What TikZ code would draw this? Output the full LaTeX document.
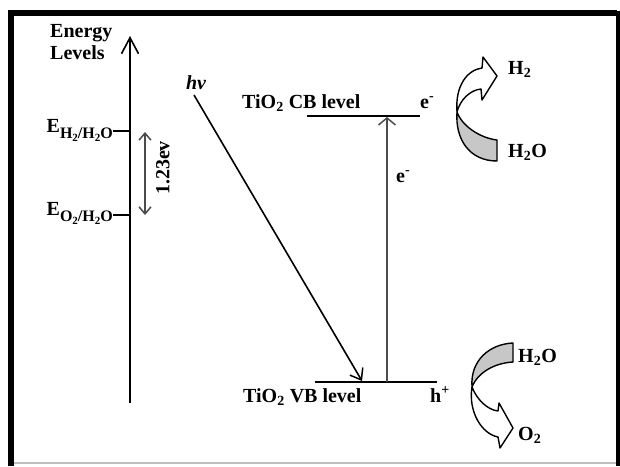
\documentclass[tikz,border=0pt]{standalone}
\usepackage{fontspec}
\setmainfont{Liberation Serif}
\usetikzlibrary{arrows.meta}
\newcommand{\subtxt}[1]{\raisebox{-6pt}{\fontsize{16}{18}\selectfont #1}}
\newcommand{\subtwo}{\raisebox{-3.5pt}{\fontsize{11}{12}\selectfont 2}}
\tikzset{
  lbl/.style={inner sep=0pt, font=\fontsize{20}{24}\selectfont\bfseries},
  conn/.style={line width=1.5pt, black},
  axisarrow/.style={line width=2pt, -{Straight Barb[length=16pt,width=17pt,line width=1.6pt]}},
  hvarrow/.style={line width=1.6pt, -{Straight Barb[length=10pt,width=15pt,line width=1.5pt]}},
  earrow/.style={line width=1.6pt, black!70, -{Straight Barb[length=7pt,width=17pt,line width=1.5pt]}},
  gaparrow/.style={line width=1.5pt, black!70, {Straight Barb[length=7pt,width=12pt,line width=1.5pt]}-{Straight Barb[length=7pt,width=12pt,line width=1.5pt]}},
  band/.style={fill=black!22, draw=black, line width=1.4pt, line join=round},
  whitearrow/.style={fill=white, draw=black, line width=1.4pt, line join=round}
}
\begin{document}
\begin{tikzpicture}[x=1pt,y=-1pt]
\useasboundingbox (0,0) rectangle (620,466);
% frame
\draw[black!25, line width=1.5pt] (14,463) -- (616,463);
\draw[line width=6pt] (11,466) -- (11,13) -- (617,13);
\draw[line width=4pt] (618,11) -- (618,466);

% energy axis
\coordinate (axb) at (130,403);
\coordinate (axt) at (130,36);
\draw[axisarrow] (axb) -- (axt);
\node[lbl, anchor=base west] (energy) at (50,37) {Energy};
\node[lbl, anchor=base west] (levels) at (50,59) {Levels};

% redox levels
\node[lbl, anchor=base east] (eh) at (113,132) {E\subtxt{H\subtwo/H\subtwo O}};
\node[lbl, anchor=base east] (eo) at (113,215) {E\subtxt{O\subtwo/H\subtwo O}};
\coordinate (ehA) at (130,131);
\coordinate (eoA) at (130,215);
\draw[conn] (eh.east |- ehA) -- (ehA);
\draw[conn] (eo.east |- eoA) -- (eoA);

% 1.23 eV gap
\coordinate (g1) at (145,132);
\coordinate (g2) at (145,215);
\draw[gaparrow] (g1) -- (g2);
\node[lbl, rotate=90] (gap) at (163,168) {1.23ev};

% photon
\node[lbl, font=\fontsize{20}{24}\selectfont\bfseries\itshape] (hv) at (196,83) {hv};
\coordinate (hvs) at (194,95);
\coordinate (hvt) at (362,381);
\draw[hvarrow] (hvs) -- (hvt);

% TiO2 levels
\coordinate (cbL) at (307,116);
\coordinate (cbR) at (420,116);
\coordinate (vbL) at (315,382);
\coordinate (vbR) at (437,382);
\draw[conn] (cbL) -- (cbR);
\draw[conn] (vbL) -- (vbR);
\node[lbl, anchor=base west] (cblab) at (242,108) {TiO\textsubscript{2} CB level};
\node[lbl, anchor=base west] (vblab) at (243,402) {TiO\textsubscript{2} VB level};
\node[lbl, anchor=base west] (ecb) at (420,108) {e\textsuperscript{-}};
\node[lbl, anchor=base west] (hvb) at (430,402) {h\textsuperscript{+}};

% excitation
\coordinate (exb) at (387,382);
\coordinate (ext) at (387,117);
\draw[earrow] (exb) -- (ext);
\node[lbl, anchor=base west] (eup) at (396,182) {e\textsuperscript{-}};

% reduction: H2O -> H2
\draw[band] (457,112) .. controls (455,140) and (470,161) .. (497,161)
  -- (497,140) .. controls (480,138) and (462,126) .. (457,112) -- cycle;
\draw[whitearrow] (457,112) .. controls (455,86) and (467,70) .. (482,68)
  -- (483,57) -- (497,76) -- (482,100) -- (481,89)
  .. controls (470,90) and (460,100) .. (457,112) -- cycle;
\node[lbl, anchor=base west] (h2) at (508,74) {H\textsubscript{2}};
\node[lbl, anchor=base west] (h2o1) at (508,157) {H\textsubscript{2}O};

% oxidation: H2O -> O2
\draw[band] (472,387) .. controls (470,360) and (490,344) .. (513,343)
  -- (513,362) .. controls (495,363) and (478,372) .. (472,387) -- cycle;
\draw[whitearrow] (472,387) .. controls (468,412) and (482,434) .. (498,437)
  -- (500,448) -- (513,428) -- (499,403) -- (498,411)
  .. controls (488,410) and (477,400) .. (472,387) -- cycle;
\node[lbl, anchor=base west] (h2o2) at (518,362) {H\textsubscript{2}O};
\node[lbl, anchor=base west] (o2) at (518,440) {O\textsubscript{2}};
\end{tikzpicture}
\end{document}
